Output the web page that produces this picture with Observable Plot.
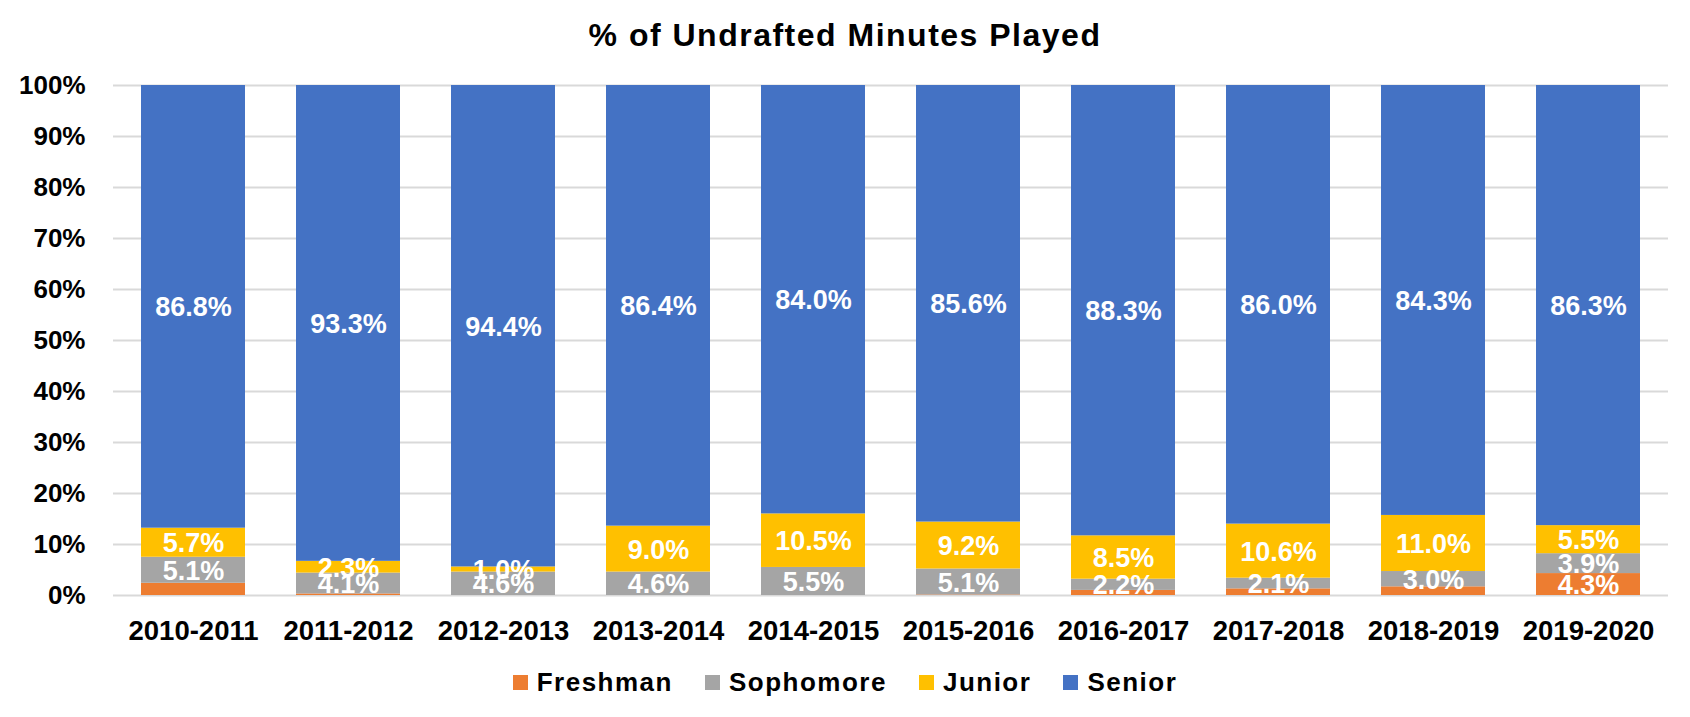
<!DOCTYPE html>
<html><head><meta charset="utf-8">
<script src="https://cdn.jsdelivr.net/npm/d3@7"></script>
<script src="https://cdn.jsdelivr.net/npm/@observablehq/plot@0.6"></script>
<style>
body{margin:0;background:#fff;font-family:Arial,"Liberation Sans",sans-serif;}
#title{width:1690px;height:70px;line-height:70px;text-align:center;font-weight:bold;font-size:32px;letter-spacing:1.5px;color:#000;}
#legend{width:1690px;height:45px;display:flex;justify-content:center;align-items:center;font-weight:bold;font-size:26px;letter-spacing:1.5px;color:#000;}
.item{display:flex;align-items:center;margin:0 16px;}
.sw{width:15px;height:15px;margin-right:9px;}
</style></head><body>
<div id="title">% of Undrafted Minutes Played</div>
<div id="chart"></div>
<div id="legend"></div>
<script>
const seasons = ["2010-2011","2011-2012","2012-2013","2013-2014","2014-2015","2015-2016","2016-2017","2017-2018","2018-2019","2019-2020"];
const classes = ["Freshman","Sophomore","Junior","Senior"];
const colors = ["#ED7D31","#A5A5A5","#FFC000","#4472C4"];
const freshman  = [2.4, 0.3, 0.0, 0.0, 0.0, 0.1, 1.0, 1.3, 1.7, 4.3];
const sophomore = [5.1, 4.1, 4.6, 4.6, 5.5, 5.1, 2.2, 2.1, 3.0, 3.9];
const junior    = [5.7, 2.3, 1.0, 9.0, 10.5, 9.2, 8.5, 10.6, 11.0, 5.5];
const senior    = [86.8, 93.3, 94.4, 86.4, 84.0, 85.6, 88.3, 86.0, 84.3, 86.3];
const yTicks = [0,10,20,30,40,50,60,70,80,90,100];

const series = [freshman, sophomore, junior, senior];
const data = [];
seasons.forEach((s, i) => {
  classes.forEach((c, j) => {
    data.push({season: s, cls: c, value: series[j][i]});
  });
});
const labelText = d => (d.cls === "Freshman" && d.value < 4) ? "" : d.value.toFixed(1) + "%";

const FONT = 'Arial, "Liberation Sans", sans-serif';
const chart = Plot.plot({
  width: 1690,
  height: 590,
  marginTop: 15,
  marginBottom: 65,
  marginLeft: 113,
  marginRight: 22,
  style: {fontFamily: FONT, background: "#fff", color: "#000"},
  x: {domain: seasons, paddingInner: 0.331, paddingOuter: 0.1655, label: null},
  y: {domain: [0, 100], label: null},
  color: {domain: classes, range: colors},
  marks: [
    Plot.gridY(yTicks, {stroke: "#d9d9d9", strokeOpacity: 1, strokeWidth: 2}),
    Plot.barY(data, Plot.stackY({x: "season", y: "value", z: "cls", fill: "cls", order: null})),
    Plot.text(data, Plot.stackY({x: "season", y: "value", z: "cls", order: null, text: labelText,
      fill: "white", fontWeight: "bold", fontSize: 27, fontFamily: FONT, lineAnchor: "middle", dy: 1})),
    Plot.axisY(yTicks, {tickSize: 0, tickPadding: 28, tickFormat: d => d + "%", fontSize: 26, fontWeight: "bold", fill: "#000"}),
    Plot.axisX({tickSize: 0, tickPadding: 25, fontSize: 27.5, fontWeight: "bold", fill: "#000", label: null})
  ]
});
document.getElementById("chart").appendChild(chart);

const legend = document.getElementById("legend");
classes.forEach((c, j) => {
  const item = document.createElement("div");
  item.className = "item";
  const sw = document.createElement("div");
  sw.className = "sw";
  sw.style.background = colors[j];
  const t = document.createElement("span");
  t.textContent = c;
  item.appendChild(sw); item.appendChild(t);
  legend.appendChild(item);
});
</script>
</body></html>
